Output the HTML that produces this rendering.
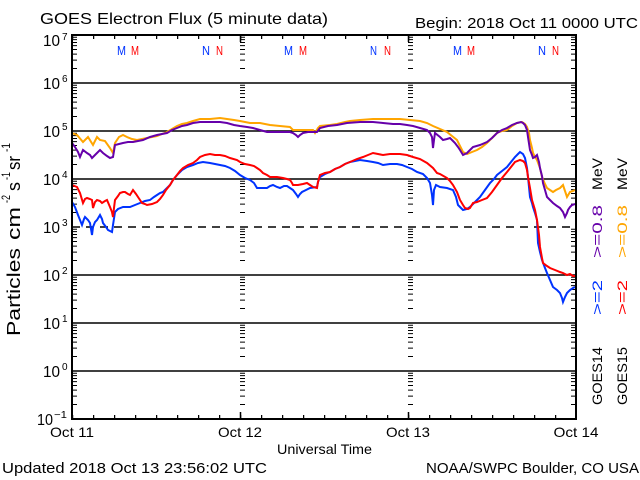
<!DOCTYPE html>
<html><head><meta charset="utf-8"><style>
html,body{margin:0;padding:0;background:#fff;}
svg{display:block;}
text{font-family:"Liberation Sans",sans-serif;}
</style></head><body>
<svg width="640" height="480" viewBox="0 0 640 480" xmlns="http://www.w3.org/2000/svg">
<defs>
<pattern id="mt" patternUnits="userSpaceOnUse" x="0" y="35" width="6" height="48">
<path d="M0 2.2h5M0 4.65h5M0 7.44h5M0 10.65h5M0 14.45h5M0 19.1h5M0 25.1h5M0 33.55h5" stroke="#000" stroke-width="1" fill="none"/>
</pattern>
<pattern id="mt2" patternUnits="userSpaceOnUse" x="1" y="35" width="6" height="48">
<path d="M0 2.2h5M0 4.65h5M0 7.44h5M0 10.65h5M0 14.45h5M0 19.1h5M0 25.1h5M0 33.55h5" stroke="#000" stroke-width="1" fill="none"/>
</pattern>
<pattern id="xt" patternUnits="userSpaceOnUse" x="72" y="0" width="21" height="480">
<path d="M0.5 35v4M0.5 415v4" stroke="#000" stroke-width="1.5" fill="none"/>
</pattern>
</defs>
<rect width="640" height="480" fill="#fff"/>

<g stroke="#000" stroke-width="1.5" fill="none">
<path d="M72 83H576M72 131H576M72 179H576M72 275H576M72 323H576M72 371H576"/>
<path d="M72 227H576" stroke-dasharray="8 6"/>
</g>

<rect x="72" y="35" width="6" height="384" fill="url(#mt)"/>
<rect x="240" y="35" width="6" height="384" fill="url(#mt)"/>
<rect x="408" y="35" width="6" height="384" fill="url(#mt)"/>
<rect x="571" y="35" width="6" height="384" fill="url(#mt2)"/>
<rect x="72" y="0" width="504" height="480" fill="url(#xt)"/>
<path d="M240.5 35v7M408.5 35v7M240.5 412v7M408.5 412v7" stroke="#000" stroke-width="1.5"/>

<g fill="none" stroke-width="2" stroke-linejoin="miter">
<polyline stroke="#ffa500" points="72,133 77,135 83,142 88,137 93,145 97,137 100,140 105,141 110,148 113,153 115,143 119,137 123,135 127,137 132,139 137,140 142,139 147,138 152,137 157,136 162,134 167,132 172,129 177,126 182,124 187,123 193,121 200,119 210,119 220,118 227,119 234,120 240,121 250,123 260,123 270,125 280,126 290,127 293,130 303,130 313,130 315,133 318,128 320,126 330,125 337,124 345,122 350,121 360,120 373,119 385,119 400,119 410,120 420,121 427,123 433,126 440,129 447,132 452,136 457,140 460,146 463,152 467,154 472,152 477,150 482,147 487,143 492,138 497,133 502,131 507,130 512,126 517,123 522,122 525,124 527,127 529,133 530,140 532,148 533,153 535,157 537,160 540,168 542,177 545,184 547,188 550,190 553,192 556,190 560,188 563,185 565,191 567,197 570,192 573,191 575,190"/>
<polyline stroke="#6600aa" points="72,143 75,147 78,152 80,157 83,150 87,153 90,155 92,158 95,155 97,153 100,150 103,153 107,156 110,158 113,157 115,145 119,144 123,143 128,142 133,142 138,141 143,140 150,137 157,135 162,134 167,133 172,130 177,128 182,126 187,125 193,123 200,122 213,122 220,122 227,123 234,125 240,126 247,127 253,128 260,130 267,132 277,132 287,132 290,132 293,133 296,135 298,137 300,135 303,133 308,132 313,132 317,132 320,128 328,126 337,125 342,124 347,123 360,122 373,122 383,123 393,124 400,124 407,125 413,126 420,128 427,130 430,133 432,137 433,148 434,140 435,133 440,137 443,140 447,139 450,138 453,141 455,143 458,147 460,150 463,155 467,153 470,150 473,147 480,145 487,142 492,138 497,133 502,130 507,128 512,125 517,123 521,122 523,123 525,125 527,130 528,137 530,150 532,155 533,158 535,157 537,155 539,162 540,168 542,176 543,183 545,190 547,197 550,200 553,203 557,206 560,208 563,212 565,217 567,213 568,210 570,207 572,205 575,204"/>
<polyline stroke="#0033ff" points="72,202 75,207 78,215 80,220 82,225 84,219 85,217 88,220 90,223 92,235 93,227 95,222 97,220 100,215 102,219 103,223 106,227 108,230 110,231 112,232 113,225 115,212 118,209 123,207 130,207 135,205 140,203 145,201 150,200 154,197 157,195 160,193 163,192 167,188 170,185 173,180 177,175 182,170 187,167 193,165 198,163 203,162 210,163 215,164 220,165 225,166 230,168 235,171 240,175 245,178 250,180 254,183 257,188 262,188 267,188 270,186 273,185 277,187 280,188 284,186 287,186 290,188 293,190 296,194 298,197 300,194 302,192 306,190 310,188 317,187 318,182 320,177 325,174 330,172 335,169 340,167 345,164 350,162 355,161 360,160 367,161 373,162 378,163 383,165 390,164 397,164 402,165 407,167 412,169 417,172 423,174 427,178 430,183 432,195 433,205 434,190 436,185 440,187 447,188 453,190 456,197 458,205 460,207 463,210 467,209 470,207 475,202 480,197 485,190 490,183 494,179 497,175 502,171 507,167 511,162 515,157 518,154 520,152 523,154 525,158 527,168 528,177 530,197 532,203 533,207 535,213 537,220 538,243 540,252 542,260 545,268 547,273 550,280 553,287 557,290 560,293 562,298 563,302 565,297 567,293 570,290 573,288 575,287"/>
<polyline stroke="#ff0000" points="72,185 77,187 80,193 83,203 85,199 87,198 90,199 92,200 93,208 95,202 97,200 100,201 102,203 105,201 107,200 110,207 112,212 113,217 114,208 115,200 118,196 120,193 123,192 125,192 128,194 130,195 133,190 136,194 138,197 140,200 142,203 145,204 147,205 152,204 157,202 160,199 163,195 166,190 170,185 173,180 177,175 180,171 183,168 188,165 193,163 197,160 200,157 205,155 210,154 215,155 220,155 225,156 230,158 237,160 240,162 245,164 250,165 254,166 257,168 260,170 263,173 267,175 270,177 277,177 283,178 287,179 290,180 292,183 293,185 298,185 303,184 307,183 310,185 313,187 317,188 318,182 320,175 325,173 330,172 335,169 340,167 345,164 350,162 357,159 363,157 368,155 373,153 378,154 383,155 390,154 400,154 407,155 413,157 420,159 427,163 433,168 437,173 440,174 447,178 450,181 453,185 457,192 460,200 463,205 465,208 468,209 470,208 473,203 477,202 482,200 487,198 492,192 497,185 502,178 507,172 511,167 515,162 520,160 523,161 525,163 527,170 528,177 530,188 532,200 535,210 537,220 539,235 540,247 542,258 543,263 547,266 550,268 555,270 560,272 563,273 567,275 570,274 573,276 575,276"/>
</g>

<rect x="72" y="35" width="504" height="384" fill="none" stroke="#000" stroke-width="2"/>

<g font-size="13">
<text x="117" y="55" fill="#0033ff" textLength="9" lengthAdjust="spacingAndGlyphs">M</text>
<text x="131" y="55" fill="#ff0000" textLength="8" lengthAdjust="spacingAndGlyphs">M</text>
<text x="202" y="55" fill="#0033ff" textLength="8" lengthAdjust="spacingAndGlyphs">N</text>
<text x="216" y="55" fill="#ff0000" textLength="7" lengthAdjust="spacingAndGlyphs">N</text>
<text x="284" y="55" fill="#0033ff" textLength="9" lengthAdjust="spacingAndGlyphs">M</text>
<text x="299" y="55" fill="#ff0000" textLength="8" lengthAdjust="spacingAndGlyphs">M</text>
<text x="370" y="55" fill="#0033ff" textLength="7" lengthAdjust="spacingAndGlyphs">N</text>
<text x="384" y="55" fill="#ff0000" textLength="7" lengthAdjust="spacingAndGlyphs">N</text>
<text x="453" y="55" fill="#0033ff" textLength="9" lengthAdjust="spacingAndGlyphs">M</text>
<text x="467" y="55" fill="#ff0000" textLength="8" lengthAdjust="spacingAndGlyphs">M</text>
<text x="538" y="55" fill="#0033ff" textLength="8" lengthAdjust="spacingAndGlyphs">N</text>
<text x="552" y="55" fill="#ff0000" textLength="7" lengthAdjust="spacingAndGlyphs">N</text>
</g>

<text x="40" y="24" font-size="16" textLength="288" lengthAdjust="spacingAndGlyphs">GOES Electron Flux (5 minute data)</text>
<text x="415" y="28" font-size="15" textLength="223" lengthAdjust="spacingAndGlyphs">Begin: 2018 Oct 11 0000 UTC</text>

<g font-size="16">
<text x="60" y="46" text-anchor="end" textLength="17" lengthAdjust="spacingAndGlyphs">10</text>
<text x="60" y="89" text-anchor="end" textLength="17" lengthAdjust="spacingAndGlyphs">10</text>
<text x="60" y="137" text-anchor="end" textLength="17" lengthAdjust="spacingAndGlyphs">10</text>
<text x="60" y="185" text-anchor="end" textLength="17" lengthAdjust="spacingAndGlyphs">10</text>
<text x="60" y="233" text-anchor="end" textLength="17" lengthAdjust="spacingAndGlyphs">10</text>
<text x="60" y="281" text-anchor="end" textLength="17" lengthAdjust="spacingAndGlyphs">10</text>
<text x="60" y="329" text-anchor="end" textLength="17" lengthAdjust="spacingAndGlyphs">10</text>
<text x="60" y="377" text-anchor="end" textLength="17" lengthAdjust="spacingAndGlyphs">10</text>
<text x="53" y="425" text-anchor="end" textLength="16" lengthAdjust="spacingAndGlyphs">10</text>
</g>
<g font-size="10">
<text x="62" y="40">7</text>
<text x="62" y="82">6</text>
<text x="62" y="130">5</text>
<text x="62" y="178">4</text>
<text x="62" y="226">3</text>
<text x="62" y="274">2</text>
<text x="62" y="322">1</text>
<text x="62" y="370">0</text>
<text x="54" y="418" textLength="13" lengthAdjust="spacingAndGlyphs">−1</text>
</g>

<g transform="translate(20,336) rotate(-90)">
<text x="0" y="0" font-size="18" textLength="88" lengthAdjust="spacingAndGlyphs">Particles</text>
<text x="96" y="0" font-size="18" textLength="33" lengthAdjust="spacingAndGlyphs">cm</text>
<text x="133" y="-10" font-size="12" textLength="8" lengthAdjust="spacingAndGlyphs">-2</text>
<text x="145" y="0" font-size="18" textLength="9" lengthAdjust="spacingAndGlyphs">s</text>
<text x="156" y="-10" font-size="12" textLength="8" lengthAdjust="spacingAndGlyphs">-1</text>
<text x="166" y="0" font-size="18" textLength="14" lengthAdjust="spacingAndGlyphs">sr</text>
<text x="184" y="-10" font-size="12" textLength="9" lengthAdjust="spacingAndGlyphs">-1</text>
</g>

<g font-size="14" text-anchor="middle">
<text x="72" y="437" textLength="44" lengthAdjust="spacingAndGlyphs">Oct 11</text>
<text x="240" y="437" textLength="44" lengthAdjust="spacingAndGlyphs">Oct 12</text>
<text x="408" y="437" textLength="44" lengthAdjust="spacingAndGlyphs">Oct 13</text>
<text x="576" y="437" textLength="45" lengthAdjust="spacingAndGlyphs">Oct 14</text>
</g>
<text x="277" y="454" font-size="14" textLength="95" lengthAdjust="spacingAndGlyphs">Universal Time</text>
<text x="2" y="473" font-size="15" textLength="265" lengthAdjust="spacingAndGlyphs">Updated 2018 Oct 13 23:56:02 UTC</text>
<text x="426" y="473" font-size="15" textLength="213" lengthAdjust="spacingAndGlyphs">NOAA/SWPC Boulder, CO USA</text>

<g transform="translate(602,405) rotate(-90)" font-size="14">
<text x="0" y="0" fill="#000" textLength="58" lengthAdjust="spacingAndGlyphs">GOES14</text>
<text x="90" y="0" fill="#0033ff" textLength="35" lengthAdjust="spacingAndGlyphs">&gt;=2</text>
<text x="147" y="0" fill="#6600aa" textLength="53" lengthAdjust="spacingAndGlyphs">&gt;=0.8</text>
<text x="215" y="0" fill="#000" textLength="32" lengthAdjust="spacingAndGlyphs">MeV</text>
</g>
<g transform="translate(627,405) rotate(-90)" font-size="14">
<text x="0" y="0" fill="#000" textLength="58" lengthAdjust="spacingAndGlyphs">GOES15</text>
<text x="90" y="0" fill="#ff0000" textLength="35" lengthAdjust="spacingAndGlyphs">&gt;=2</text>
<text x="147" y="0" fill="#ffa500" textLength="53" lengthAdjust="spacingAndGlyphs">&gt;=0.8</text>
<text x="215" y="0" fill="#000" textLength="32" lengthAdjust="spacingAndGlyphs">MeV</text>
</g>
</svg>
</body></html>
